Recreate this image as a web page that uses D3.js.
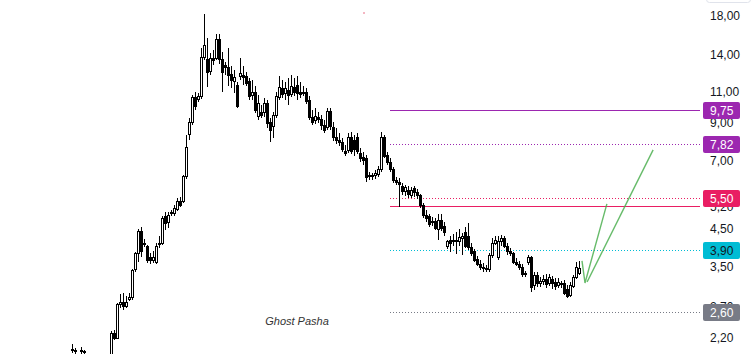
<!DOCTYPE html>
<html>
<head>
<meta charset="utf-8">
<script src="https://cdn.jsdelivr.net/npm/d3@7"></script>
<style>
  body { margin: 0; background: #fff; }
  svg { display: block; }
</style>
</head>
<body>
<div id="chart"></div>
<script>
// OHLC, one candle per bar
const opens = [
  2.03,2.02,1.94,2.02,2.01,1.93,1.90,1.88,1.89,1.85,
  1.88,1.90,1.89,1.93,2.27,2.20,2.73,2.77,2.71,2.82,
  2.86,3.43,3.81,4.42,4.04,3.99,3.71,3.66,3.61,4.04,
  4.09,4.85,4.69,4.97,4.97,5.10,5.38,5.38,6.30,8.28,
  9.01,10.54,10.47,10.61,13.77,13.51,12.49,13.68,13.68,15.39,
  13.51,12.99,12.90,12.25,11.70,11.47,12.09,12.17,12.09,11.70,
  10.68,10.89,9.37,9.56,9.56,10.14,9.01,8.73,9.43,10.54,
  11.25,10.82,11.10,10.75,11.32,11.47,10.89,10.82,10.96,10.40,
  9.25,9.07,9.25,9.13,8.78,8.67,9.62,8.67,8.17,8.01,
  7.90,7.41,7.46,8.12,8.01,8.12,7.36,7.17,7.12,6.30,
  6.30,6.34,6.38,6.59,8.12,7.26,6.94,6.59,6.17,6.09,
  5.93,5.71,5.78,5.56,5.82,5.67,5.56,5.21,4.91,4.85,
  4.69,4.72,4.48,4.75,4.57,4.01,4.17,4.12,4.17,4.14,
  4.22,4.39,4.28,3.96,3.86,3.68,3.56,3.49,3.47,3.43,
  3.76,4.09,3.73,4.14,4.22,4.01,3.88,3.81,3.61,3.56,
  3.49,3.34,3.61,3.71,3.09,3.30,3.15,3.19,3.23,3.15,
  3.23,3.17,3.09,3.13,3.15,3.01,2.91,3.07,3.26,3.36
];
const closes = [
  2.04,2.03,1.93,2.03,2.02,1.90,1.88,1.89,1.85,1.88,
  1.90,1.89,1.93,2.27,2.20,2.73,2.77,2.70,2.78,2.86,
  3.41,3.81,4.42,3.86,4.09,3.66,3.64,3.71,4.01,4.09,
  4.81,4.66,4.88,4.98,5.14,5.38,5.24,6.30,7.65,9.01,
  10.54,10.00,10.61,13.77,14.80,12.41,13.68,13.42,15.39,13.51,
  12.41,12.82,12.17,11.85,12.01,9.94,12.33,12.01,11.62,10.61,
  10.89,9.69,10.20,9.43,10.14,8.90,8.55,9.43,10.61,11.32,
  10.75,11.25,10.68,11.39,10.89,10.82,10.75,10.89,10.33,9.25,
  9.01,9.31,9.13,8.78,8.55,9.62,8.73,8.12,8.01,7.90,
  7.51,7.36,8.12,7.41,7.51,7.41,7.12,7.03,6.26,6.34,
  6.34,6.42,6.59,8.12,7.21,6.94,6.59,6.17,6.09,6.01,
  5.71,5.86,5.60,5.78,5.67,5.56,5.21,4.88,4.81,4.63,
  4.70,4.51,4.75,4.51,4.39,4.12,4.07,4.17,4.12,4.25,
  4.28,4.01,3.96,3.83,3.66,3.56,3.49,3.47,3.43,3.76,
  4.09,4.17,4.14,4.22,4.01,3.88,3.83,3.61,3.56,3.49,
  3.32,3.35,3.71,3.05,3.30,3.13,3.19,3.23,3.11,3.26,
  3.15,3.07,3.17,3.11,2.95,2.89,3.09,3.26,3.49,3.47
];
const highs = [
  2.11,2.06,1.97,2.08,2.04,1.96,1.93,1.91,1.91,1.90,
  1.94,1.94,1.96,2.30,2.32,2.77,2.93,2.95,2.89,2.95,
  3.45,3.86,4.48,4.54,4.20,4.04,3.83,3.88,4.09,4.28,
  4.88,5.01,5.01,5.07,5.24,5.49,5.53,6.38,8.28,9.25,
  10.75,10.96,10.89,14.61,18.24,15.59,14.14,14.42,16.00,16.00,
  14.23,13.33,14.61,12.99,12.65,11.70,13.68,12.99,12.49,12.01,
  11.85,11.39,10.75,10.07,10.54,10.40,9.25,9.62,10.96,12.17,
  11.85,11.70,12.01,12.25,12.01,12.17,11.70,11.39,11.25,10.68,
  9.75,9.88,9.62,9.43,9.13,9.88,9.88,9.01,8.67,8.39,
  8.12,7.75,8.39,8.44,8.28,8.39,7.60,7.41,7.26,6.51,
  6.46,6.59,6.77,8.44,8.28,7.41,7.12,6.72,6.30,6.26,
  6.05,5.97,5.93,5.89,5.93,5.82,5.64,5.31,5.07,4.94,
  4.85,4.81,4.94,4.94,4.69,4.17,4.28,4.34,4.39,4.48,
  4.36,4.54,4.66,4.09,3.94,3.76,3.66,3.59,3.54,3.83,
  4.22,4.28,4.28,4.31,4.28,4.09,3.96,3.86,3.71,3.64,
  3.56,3.41,3.78,3.76,3.39,3.39,3.28,3.32,3.34,3.34,
  3.30,3.26,3.26,3.19,3.21,3.11,3.17,3.32,3.61,3.64
];
const lows = [
  1.99,1.98,1.90,1.98,1.98,1.88,1.84,1.84,1.82,1.83,
  1.85,1.85,1.87,1.90,2.17,2.18,2.68,2.64,2.68,2.80,
  2.82,3.39,3.61,3.73,3.99,3.59,3.56,3.59,3.56,3.96,
  4.04,4.45,4.51,4.88,4.88,5.04,5.17,5.31,6.21,8.01,
  8.84,9.75,10.27,10.47,13.51,11.32,12.25,13.07,13.51,13.16,
  10.96,12.25,11.39,11.25,10.89,9.88,11.85,11.47,11.39,10.40,
  10.40,9.56,9.13,9.25,9.31,8.67,7.90,8.12,9.25,10.40,
  10.54,10.40,10.07,10.61,10.68,10.40,10.54,10.68,10.14,9.13,
  8.84,8.90,8.96,8.55,8.39,8.55,8.55,7.96,7.80,7.70,
  7.41,7.21,7.36,7.31,7.21,7.31,6.94,6.81,6.09,6.17,
  6.17,6.21,6.30,6.51,7.12,6.81,6.51,6.05,5.97,5.17,
  5.60,5.56,5.49,5.49,5.53,5.46,5.14,4.81,4.69,4.54,
  4.57,4.45,4.17,4.42,4.28,3.94,3.86,4.01,3.81,4.01,
  3.78,3.96,3.91,3.76,3.61,3.52,3.43,3.39,3.39,3.39,
  3.71,4.04,3.66,4.01,3.96,3.78,3.76,3.56,3.52,3.43,
  3.28,3.28,3.54,2.97,3.01,3.07,3.07,3.11,3.05,3.09,
  3.03,3.01,3.05,3.05,2.91,2.86,2.88,3.05,3.23,3.32
];

// right price scale labels (some end up hidden under the badges)
const tickValues = [2.2, 2.7, 3.5, 4.5, 5.2, 7, 9, 11, 14, 18];

// horizontal levels drawn from bar 106 to the scale
const levelValues = [9.75, 7.82, 5.50, 5.20, 3.90, 2.60];
const levelColors = ["#9c27b0", "#9c27b0", "#e91e63", "#e91e63", "#00bcd4", "#787b86"];
const levelDotted = [false, true, true, false, true, true];
const levelBadge  = [true, true, true, false, true, true];
const levelStart = 106;

// green projection paths (bar index, price)
const projA = [[170, 3.64], [171, 3.15], [178.3, 5.28]];
const projB = [[171.7, 3.17], [193.7, 7.51]];

const width = 755, height = 354;
const plotRight = 700;

const svg = d3.select("#chart").append("svg")
              .attr("width", width)
              .attr("height", height);

const x = d3.scaleLinear()
            .domain([0, opens.length - 1])
            .range([72, 579]);

const y = d3.scaleLog()
            .domain([2.2, 18])
            .range([338, 16]);

svg.append("clipPath")
   .attr("id", "plot")
   .append("rect")
   .attr("x", 0)
   .attr("y", 0)
   .attr("width", plotRight)
   .attr("height", height);

const plot = svg.append("g").attr("clip-path", "url(#plot)");

// levels
levelValues.forEach((v, i) => {
  plot.append("line")
      .attr("x1", x(levelStart))
      .attr("x2", plotRight)
      .attr("y1", Math.round(y(v)) + 0.5)
      .attr("y2", Math.round(y(v)) + 0.5)
      .attr("stroke", levelColors[i])
      .attr("stroke-width", 1)
      .attr("stroke-dasharray", levelDotted[i] ? "1,2" : null);
});

// candles
const candles = opens.map((o, i) => ({ i, o, c: closes[i], h: highs[i], l: lows[i] }));

const g = plot.selectAll("g.candle")
              .data(candles)
              .enter()
              .append("g")
              .attr("class", "candle")
              .attr("shape-rendering", "crispEdges");

g.append("line")
 .attr("x1", d => Math.round(x(d.i)) + 0.5)
 .attr("x2", d => Math.round(x(d.i)) + 0.5)
 .attr("y1", d => y(d.h))
 .attr("y2", d => y(d.l))
 .attr("stroke", "#000");

g.append("rect")
 .attr("x", d => Math.round(x(d.i)) - 0.5)
 .attr("width", 2)
 .attr("y", d => Math.min(y(d.o), y(d.c)))
 .attr("height", d => Math.max(1, Math.abs(y(d.o) - y(d.c))))
 .attr("fill", d => d.c >= d.o ? "#fff" : "#000")
 .attr("stroke", "#000")
 .attr("stroke-width", 1);

// projection
const proj = d3.line()
               .x(d => x(d[0]))
               .y(d => y(d[1]));

[projA, projB].forEach(p => {
  plot.append("path")
      .attr("d", proj(p))
      .attr("fill", "none")
      .attr("stroke", "#4caf50")
      .attr("stroke-opacity", 0.85)
      .attr("stroke-width", 1.4);
});

// watermark
svg.append("text")
   .attr("x", 297)
   .attr("y", 325)
   .attr("text-anchor", "middle")
   .attr("font-family", "'Liberation Sans', Arial, sans-serif")
   .attr("font-size", 11)
   .attr("font-style", "italic")
   .attr("fill", "#333")
   .text("Ghost Pasha");

svg.append("rect")
   .attr("x", 363)
   .attr("y", 12)
   .attr("width", 2)
   .attr("height", 2)
   .attr("fill", "#f4b6c2");

// price scale
const axis = d3.axisRight(y)
               .tickValues(tickValues)
               .tickSize(0)
               .tickPadding(0)
               .tickFormat(d => d3.format(".2f")(d).replace(".", ","));

const ax = svg.append("g")
              .attr("transform", "translate(710,0)")
              .call(axis);

ax.select(".domain").remove();
ax.selectAll("text")
  .attr("font-family", "'Liberation Sans', Arial, sans-serif")
  .attr("font-size", 12)
  .attr("fill", "#131722");

// top-right button edge
svg.append("rect")
   .attr("x", 706.5)
   .attr("y", -8.5)
   .attr("width", 44)
   .attr("height", 11)
   .attr("rx", 3)
   .attr("fill", "#fff")
   .attr("stroke", "#e0e3eb");

// level badges
levelValues.forEach((v, i) => {
  if (!levelBadge[i]) return;
  const cy = y(v);
  svg.append("rect")
     .attr("x", 703)
     .attr("y", Math.round(cy) - 8)
     .attr("width", 37)
     .attr("height", 17)
     .attr("rx", 2)
     .attr("fill", levelColors[i]);
  svg.append("text")
     .attr("x", 710)
     .attr("y", Math.round(cy) + 0.5)
     .attr("dy", "0.35em")
     .attr("font-family", "'Liberation Sans', Arial, sans-serif")
     .attr("font-size", 12)
     .attr("fill", levelColors[i] === "#00bcd4" ? "#131722" : "#fff")
     .text(d3.format(".2f")(v).replace(".", ","));
});
</script>
</body>
</html>
